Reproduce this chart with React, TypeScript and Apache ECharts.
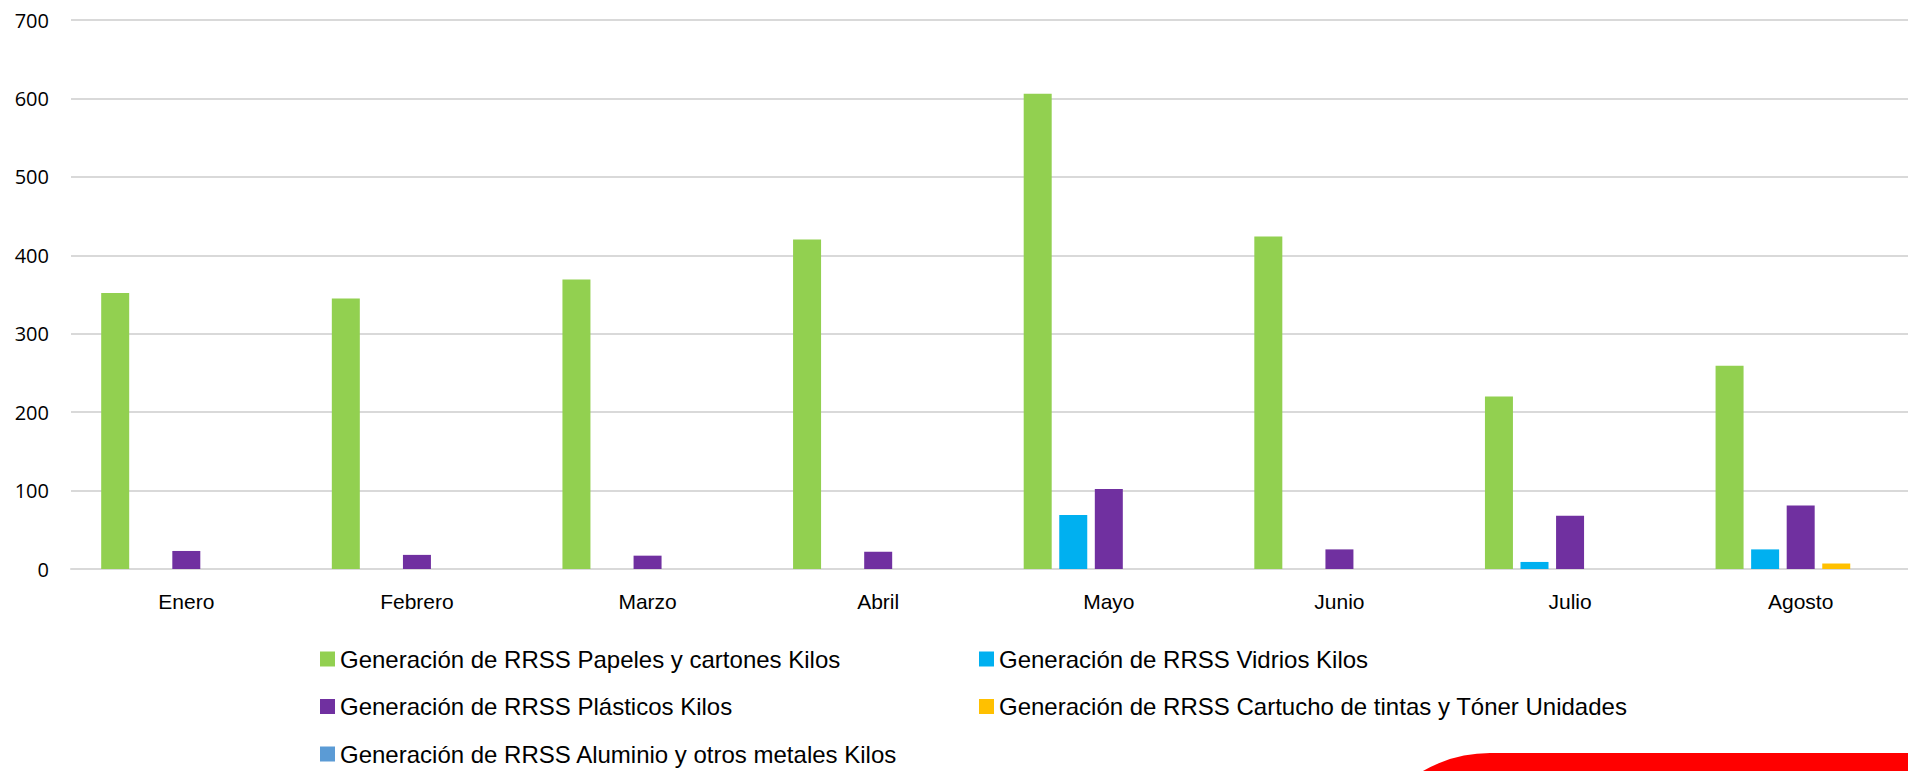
import React, { useEffect, useRef } from "react";
import * as echarts from "echarts";

const months = ["Enero", "Febrero", "Marzo", "Abril", "Mayo", "Junio", "Julio", "Agosto"];
const seriesNames = [
  "Generación de RRSS Papeles y cartones Kilos",
  "Generación de RRSS Vidrios Kilos",
  "Generación de RRSS Plásticos Kilos",
  "Generación de RRSS Cartucho de tintas y Tóner Unidades",
  "Generación de RRSS Aluminio y otros metales Kilos",
];
const papeles = [352, 345, 369, 420, 606, 424, 220, 259];
const vidrios = [null, null, null, null, 69, null, 9, 25];
const plasticos = [23, 18, 17, 22, 102, 25, 68, 81];
const cartuchos = [null, null, null, null, null, null, null, 7];
const aluminio = [null, null, null, null, null, null, null, null];
const colors = ["#92D050", "#00B0F0", "#7030A0", "#FFC000", "#5B9BD5"];
const yTicks = { min: 0, max: 700, interval: 100 };

export default function App() {
  const ref = useRef<HTMLDivElement>(null);
  useEffect(() => {
    document.body.style.margin = "0";
    document.body.style.overflow = "hidden";
    const chart = echarts.init(ref.current!, null, { renderer: "svg" });
    const values = [papeles, vidrios, plasticos, cartuchos, aluminio];
    const legendText = { fontSize: 24, fontFamily: "Liberation Sans, Arial, sans-serif", color: "#000" };
    chart.setOption({
      animation: false,
      backgroundColor: "#ffffff",
      grid: { left: 71, right: 0, top: 20, bottom: 202 },
      xAxis: {
        type: "category",
        data: months,
        axisLine: { lineStyle: { color: "#d9d9d9", width: 2 } },
        axisTick: { show: false },
        axisLabel: { color: "#000", fontSize: 21, fontFamily: "Liberation Sans, Arial, sans-serif", margin: 22 },
      },
      yAxis: {
        type: "value",
        min: yTicks.min,
        max: yTicks.max,
        interval: yTicks.interval,
        axisLine: { show: false },
        axisTick: { show: false },
        axisLabel: { color: "#000", fontSize: 20, fontFamily: "Open Sans, sans-serif", margin: 22 },
        splitLine: { lineStyle: { color: "#d9d9d9", width: 2 } },
      },
      legend: [
        {
          orient: "vertical",
          left: 320,
          top: 647,
          padding: 0,
          icon: "rect",
          itemWidth: 15,
          itemHeight: 15,
          itemGap: 23.5,
          textStyle: legendText,
          data: [seriesNames[0], seriesNames[2], seriesNames[4]],
        },
        {
          orient: "vertical",
          left: 979,
          top: 647,
          padding: 0,
          icon: "rect",
          itemWidth: 15,
          itemHeight: 15,
          itemGap: 23.5,
          textStyle: legendText,
          data: [seriesNames[1], seriesNames[3]],
        },
      ],
      series: seriesNames.map((name, i) => ({
        name,
        type: "bar",
        data: values[i],
        barWidth: 28,
        barGap: "27%",
        itemStyle: { color: colors[i] },
      })),
      graphic: [
        {
          type: "rect",
          shape: { x: 1356, y: 753, width: 700, height: 400, r: 134 },
          style: { fill: "#FF0000" },
          silent: true,
        },
      ],
    });
    return () => chart.dispose();
  }, []);
  return (
    <div style={{ width: 1908, height: 771, overflow: "hidden", position: "relative" }}>
      <div ref={ref} style={{ width: 1916, height: 771 }} />
    </div>
  );
}
